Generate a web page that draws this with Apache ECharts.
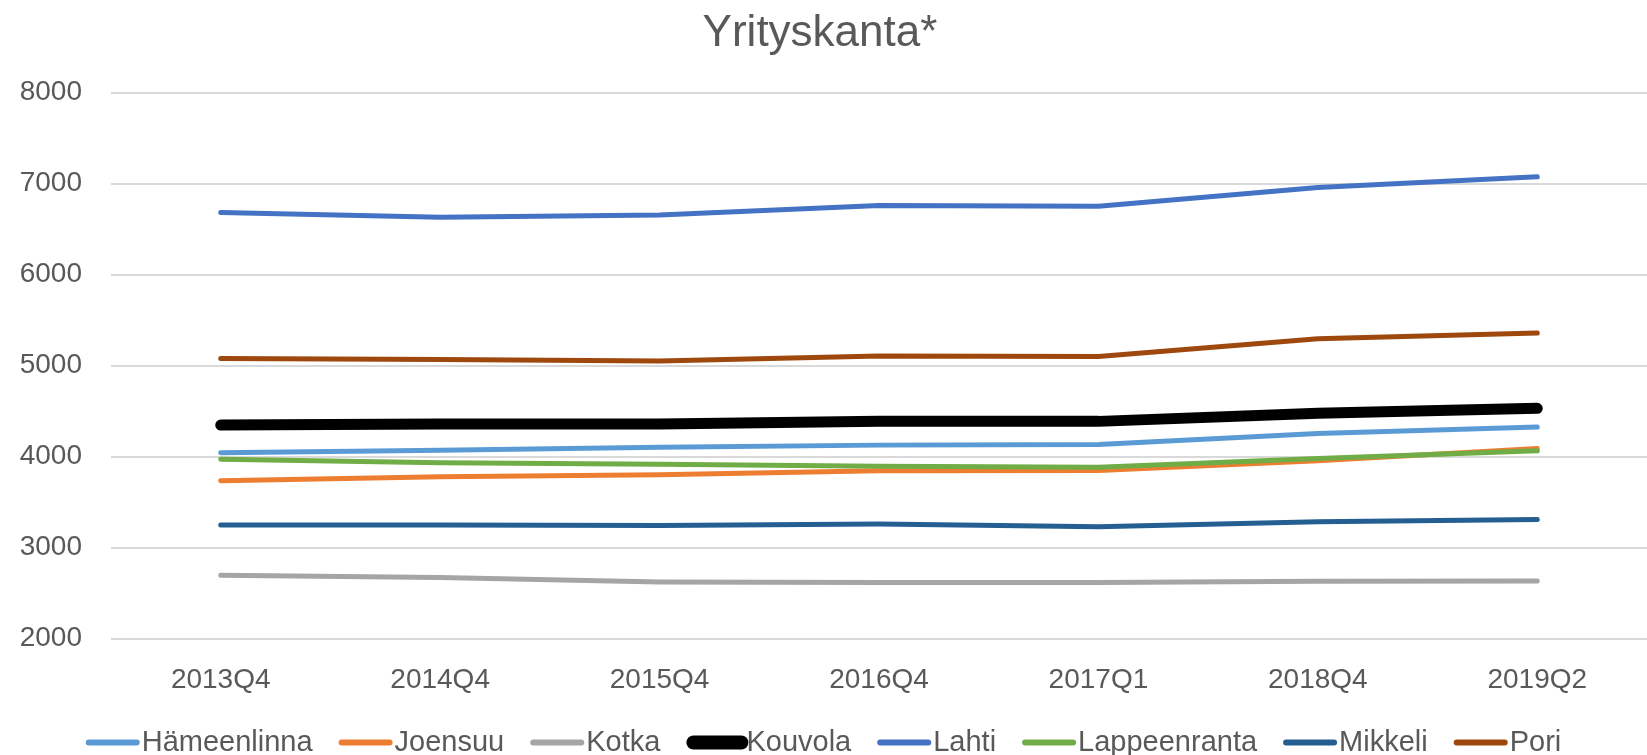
<!DOCTYPE html>
<html>
<head>
<meta charset="utf-8">
<script src="https://cdn.jsdelivr.net/npm/echarts@6/dist/echarts.min.js"></script>
<style>
html,body{margin:0;padding:0;background:#fff;}
#c{width:1647px;height:755px;}
</style>
</head>
<body>
<div id="c"></div>
<script>
const categories = ['2013Q4','2014Q4','2015Q4','2016Q4','2017Q1','2018Q4','2019Q2'];
const yTicks = [2000,3000,4000,5000,6000,7000,8000];

const hameenlinna  = [4041, 4070, 4103, 4125, 4133, 4254, 4323];
const joensuu      = [3733, 3777, 3799, 3843, 3847, 3953, 4088];
const kotka        = [2696, 2670, 2622, 2615, 2615, 2630, 2633];
const kouvola      = [4345, 4356, 4356, 4386, 4386, 4474, 4529];
const lahti        = [6680, 6629, 6655, 6757, 6750, 6955, 7073];
const lappeenranta = [3971, 3931, 3916, 3894, 3883, 3979, 4063];
const mikkeli      = [3246, 3246, 3242, 3257, 3227, 3282, 3308];
const pori         = [5078, 5067, 5049, 5104, 5100, 5295, 5357];

const seriesDefs = [
  {name:'Hämeenlinna', data:hameenlinna, color:'#5B9BD5', w:5},
  {name:'Joensuu', data:joensuu, color:'#ED7D31', w:5},
  {name:'Kotka', data:kotka, color:'#A5A5A5', w:5},
  {name:'Kouvola', data:kouvola, color:'#000000', w:11},
  {name:'Lahti', data:lahti, color:'#4472C4', w:5},
  {name:'Lappeenranta', data:lappeenranta, color:'#70AD47', w:5},
  {name:'Mikkeli', data:mikkeli, color:'#255E91', w:5},
  {name:'Pori', data:pori, color:'#9E480E', w:5}
];

const chart = echarts.init(document.getElementById('c'), null, {renderer:'canvas'});
const font = 'Liberation Sans, Arial, sans-serif';
chart.setOption({
  animation:false,
  backgroundColor:'#ffffff',
  title:{
    text:'Yrityskanta*',
    left:815, top:7, textAlign:'center',
    textStyle:{fontFamily:font, fontSize:44, fontWeight:'normal', color:'#595959'}
  },
  legend:{
    left:'center', top:723,
    itemWidth:48, itemHeight:4, itemGap:26,
    textStyle:{fontFamily:font, fontSize:29, color:'#595959'},
    data: seriesDefs.map(s=>({
      name:s.name,
      lineStyle:{width:s.w + (s.w>6?3:1), color:s.color, cap:'round'},
      itemStyle:{color:s.color, borderWidth:0}
    }))
  },
  grid:{left:111, right:-17, top:92.5, bottom:116.5, containLabel:false},
  xAxis:{
    type:'category', data:categories, boundaryGap:true,
    axisLine:{show:false}, axisTick:{show:false},
    axisLabel:{fontFamily:font, fontSize:28, color:'#595959', margin:28}
  },
  yAxis:{
    type:'value', min:yTicks[0], max:yTicks[yTicks.length-1], interval:1000,
    axisLine:{show:false}, axisTick:{show:false},
    axisLabel:{fontFamily:font, fontSize:28, color:'#595959', margin:29,
      formatter:(v)=>String(v)},
    splitLine:{lineStyle:{color:'#d9d9d9', width:2}}
  },
  series: seriesDefs.map(s=>({
    name:s.name, type:'line', data:s.data, symbol:'none', smooth:false,
    color:s.color,
    lineStyle:{color:s.color, width:s.w, cap:'round', join:'round'},
    itemStyle:{color:s.color}
  }))
});
</script>
</body>
</html>
